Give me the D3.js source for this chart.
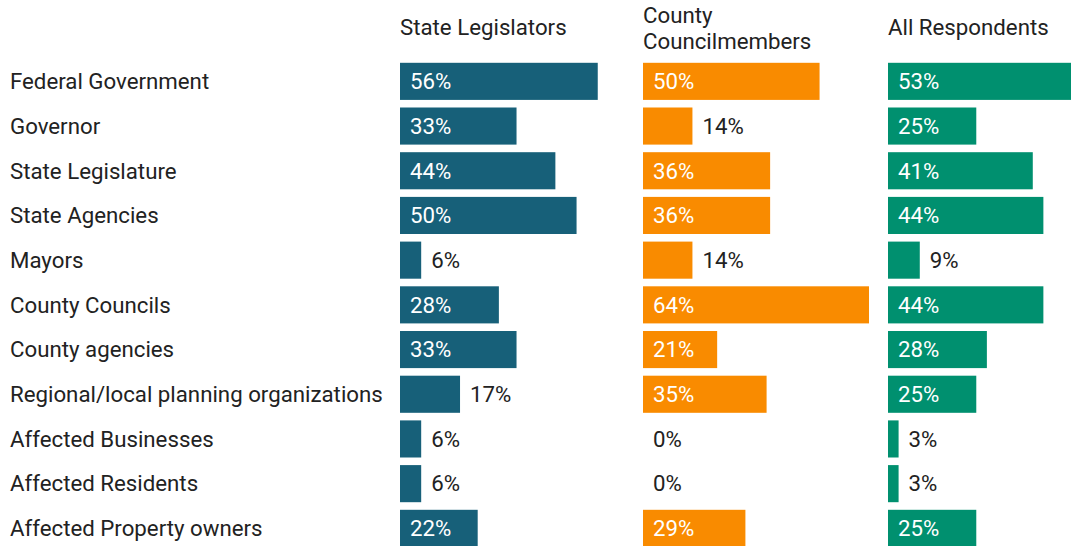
<html>
<head>
<meta charset="utf-8">
<title>Responsibility by respondent group</title>
<style>
  body { margin: 0; background: #fff; }
  text { font-family: Roboto, 'Noto Sans', sans-serif; }
</style>
<script src="https://cdnjs.cloudflare.com/ajax/libs/d3/7.8.5/d3.min.js"></script>
</head>
<body>
<div id="chart"></div>
<script>
var categories = ["Federal Government", "Governor", "State Legislature", "State Agencies", "Mayors",
  "County Councils", "County agencies", "Regional/local planning organizations",
  "Affected Businesses", "Affected Residents", "Affected Property owners"];
var groups = [["State Legislators"], ["County", "Councilmembers"], ["All Respondents"]];
var legislators = [56, 33, 44, 50, 6, 28, 33, 17, 6, 6, 22];
var councilmembers = [50, 14, 36, 36, 14, 64, 21, 35, 0, 0, 29];
var allRespondents = [53, 25, 41, 44, 9, 44, 28, 25, 3, 3, 25];
var colors = ["#176079", "#f98b00", "#00906f"];
var series = [legislators, councilmembers, allRespondents];

var w = 1071, h = 546;
var panelX = [400, 643, 888];
var fs = 22.25;

var svg = d3.select("#chart").append("svg").attr("width", w).attr("height", h);

var y = d3.scaleBand().domain(categories).range([59, 59 + 44.7 * categories.length]).paddingInner(0.17).paddingOuter(0.085);
var x = d3.scaleLinear().domain([0, 64]).range([0, 226]);

svg.selectAll("text.cat")
  .data(categories)
  .enter().append("text")
  .attr("class", "cat")
  .attr("x", 10)
  .attr("y", function(d) { return y(d) + y.bandwidth() / 2; })
  .attr("dy", "0.35em")
  .attr("font-size", fs)
  .attr("fill", "#222")
  .text(function(d) { return d; });

series.forEach(function(vals, i) {
  var g = svg.append("g").attr("transform", "translate(" + panelX[i] + ",0)");
  var title = g.append("text").attr("font-size", fs).attr("fill", "#222");
  var lines = groups[i];
  lines.forEach(function(l, j) {
    title.append("tspan").attr("x", 0)
      .attr("y", lines.length == 1 ? 35 : 23 + j * 26)
      .text(l);
  });

  var rows = g.selectAll("g.row")
    .data(categories.map(function(c, k) { return {cat: c, v: vals[k]}; }))
    .enter().append("g");

  rows.append("rect")
    .attr("x", 0)
    .attr("y", function(d) { return y(d.cat); })
    .attr("height", y.bandwidth())
    .attr("width", function(d) { return x(d.v); })
    .attr("fill", colors[i]);

  rows.append("text")
    .attr("x", function(d) { return d.v >= 20 ? 10 : x(d.v) + 10; })
    .attr("y", function(d) { return y(d.cat) + y.bandwidth() / 2; })
    .attr("dy", "0.35em")
    .attr("font-size", fs)
    .attr("fill", function(d) { return d.v >= 20 ? "#fff" : "#222"; })
    .text(function(d) { return d.v + "%"; });
});
</script>
</body>
</html>
